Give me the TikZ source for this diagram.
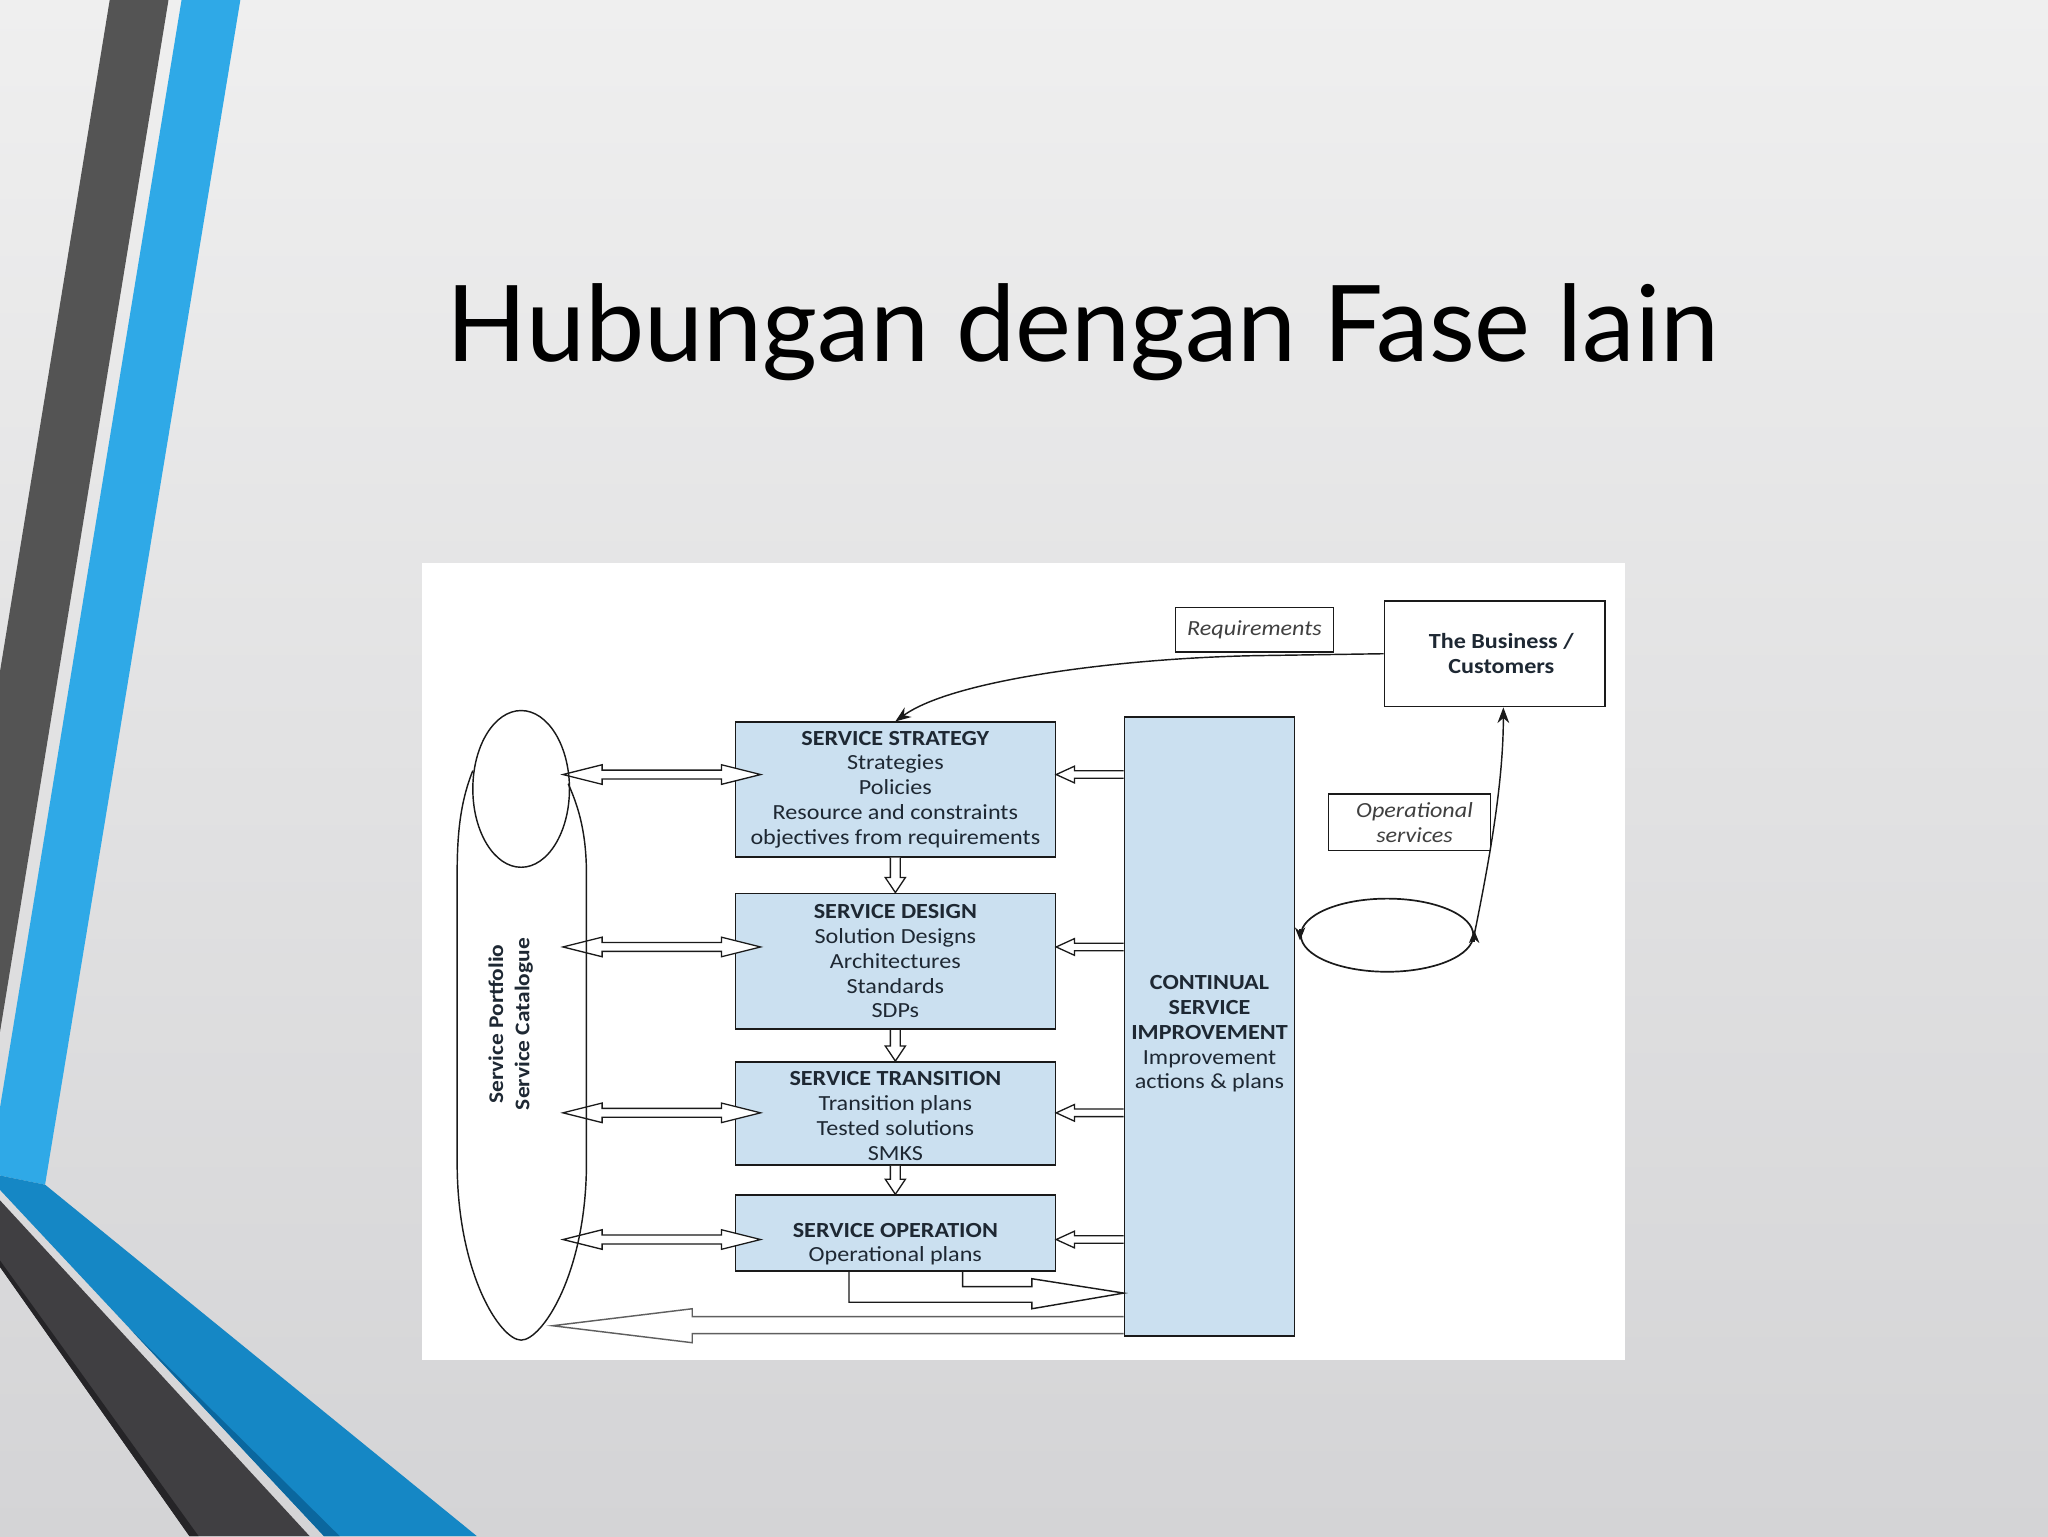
\documentclass[tikz,border=0pt]{standalone}
\usepackage{fontspec}
\setmainfont{Carlito}[FakeStretch=1.12]
\newfontfamily\titlefont{Lato}
\usetikzlibrary{arrows.meta,calc,shapes.geometric}
\definecolor{bgtop}{HTML}{EFEFEF}
\definecolor{bgmid}{HTML}{F3F3F5}
\definecolor{bgbot}{HTML}{D4D4D6}
\definecolor{stripegray}{HTML}{545454}
\definecolor{stripeblue}{HTML}{2FA9E7}
\definecolor{bandblue}{HTML}{1587C5}
\definecolor{bandblueshadow}{HTML}{0B679E}
\definecolor{banddark}{HTML}{403F42}
\definecolor{banddarkshadow}{HTML}{252427}
\definecolor{boxblue}{HTML}{CBE0F0}
\definecolor{ink}{HTML}{1A1A1A}
\definecolor{txt}{HTML}{1E2833}
\tikzset{
  phase/.style={draw=ink, line width=1.3pt, fill=boxblue, inner sep=0pt, align=center,
    text=txt, font=\fontsize{16.5}{19}\selectfont},
  plainbox/.style={draw=ink, line width=1.2pt, fill=white, inner sep=0pt, align=center,
    text=txt, font=\fontsize{16.5}{19}\selectfont},
  hollow/.style={draw=ink, line width=1pt, fill=white, line join=miter},
  thinline/.style={draw=ink, line width=1.1pt},
  downarrow/.style={hollow, to path={let \p1=(\tikztostart), \p2=(\tikztotarget) in
    (\x1-3.8pt,\y1) -- (\x1-3.8pt,\y2+11.5pt) -- (\x1-7.7pt,\y2+11.5pt) -- (\x1,\y2)
    -- (\x1+7.7pt,\y2+11.5pt) -- (\x1+3.8pt,\y2+11.5pt) -- (\x1+3.8pt,\y1)}},
  leftarrow/.style={hollow, to path={let \p1=(\tikztostart), \p2=(\tikztotarget) in
    (\x1,\y1+2.9pt) -- (\x2+14pt,\y1+2.9pt) -- (\x2+14pt,\y1+6.4pt) -- (\x2,\y1)
    -- (\x2+14pt,\y1-6.4pt) -- (\x2+14pt,\y1-2.9pt) -- (\x1,\y1-2.9pt)}},
  dblarrow/.style={hollow, to path={let \p1=(\tikztostart), \p2=(\tikztotarget) in
    (\x1,\y1) -- (\x1+30pt,\y1+7.5pt) -- (\x1+30pt,\y1+3.4pt) -- (\x2-30pt,\y1+3.4pt)
    -- (\x2-30pt,\y1+7.5pt) -- (\x2,\y1) -- (\x2-30pt,\y1-7.5pt) -- (\x2-30pt,\y1-3.4pt)
    -- (\x1+30pt,\y1-3.4pt) -- (\x1+30pt,\y1-7.5pt) -- cycle}},
  tip/.style={-{Stealth[length=12pt,width=9pt]}},
}
\begin{document}
\begin{tikzpicture}[x=1pt,y=-1pt]
\useasboundingbox (0,0) rectangle (1568,1176);
\shade[top color=bgtop, middle color=bgmid, bottom color=bgbot] (0,0) rectangle (1568,1176);

% slide decoration
\fill[stripegray] (84,0) -- (129,0) -- (0,790) -- (0,514) -- cycle;
\fill[stripeblue] (139,0) -- (184,0) -- (34.5,907) -- (0,900) -- (0,848) -- cycle;
\fill[bandblue] (0,900) -- (34.5,907) -- (365,1176) -- (248,1176) -- (0,911) -- cycle;
\fill[bandblueshadow] (100,1018) -- (248,1176) -- (260,1176) -- cycle;
\fill[banddark] (0,919) -- (237,1176) -- (145,1176) -- (0,970) -- cycle;
\fill[banddarkshadow] (0,965) -- (0,970) -- (145,1176) -- (152,1176) -- cycle;

% title
\node[font=\titlefont\fontsize{81}{90}\selectfont, anchor=base, text=black] (title)
  at (829,277) {Hubungan dengan Fase lain};

% picture panel
\fill[white] (323,431) rectangle (1244,1041);

% boxes
\node[phase, minimum width=245pt, minimum height=103pt] (ss) at (685.5,604.5)
  {\textbf{SERVICE STRATEGY}\\Strategies\\Policies\\Resource and constraints\\objectives from requirements};
\node[phase, minimum width=245pt, minimum height=104pt] (sd) at (685.5,736)
  {\textbf{SERVICE DESIGN}\\Solution Designs\\Architectures\\Standards\\SDPs};
\node[phase, minimum width=245pt, minimum height=79pt] (st) at (685.5,852.5)
  {\rule{0pt}{15pt}\textbf{SERVICE TRANSITION}\\Transition plans\\Tested solutions\\SMKS};
\node[phase, minimum width=245pt, minimum height=58pt] (so) at (685.5,944)
  {\rule{0pt}{28pt}\textbf{SERVICE OPERATION}\\Operational plans};
\node[phase, minimum width=130pt, minimum height=474pt] (csi) at (926,786)
  {\rule{0pt}{22pt}\textbf{CONTINUAL}\\\textbf{SERVICE}\\\textbf{IMPROVEMENT}\\Improvement\\actions \& plans};
\node[plainbox, minimum width=121pt, minimum height=34pt, text=black!75] (req) at (960.5,482)
  {\itshape Requirements};
\node[plainbox, minimum width=169pt, minimum height=81pt] (biz) at (1144.5,500.5)
  {\hspace*{10pt}\textbf{The Business /}\\\hspace*{10pt}\textbf{Customers}};
\node[plainbox, minimum width=124pt, minimum height=43pt, text=black!75] (ops) at (1079,629.5)
  {\hspace*{8pt}\itshape Operational\\\hspace*{8pt}\itshape services};
\node[draw=ink, line width=1.3pt, ellipse, minimum width=132pt, minimum height=56pt, inner sep=0pt]
  (loop) at (1062,716) {};

% arrows between phases
\draw[downarrow] (ss.south) to (sd.north);
\draw[downarrow] (sd.south) to (st.north);
\draw[downarrow] (st.south) to (so.north);

% arrows from CSI
\draw[leftarrow] (csi.west |- 0,593) to (ss.east |- 0,593);
\draw[leftarrow] (csi.west |- 0,725) to (sd.east |- 0,725);
\draw[leftarrow] (csi.west |- 0,852) to (st.east |- 0,852);
\draw[leftarrow] (csi.west |- 0,949) to (so.east |- 0,949);

% portfolio / catalogue
\coordinate (p1) at (431,593);
\coordinate (p2) at (431,725);
\coordinate (p3) at (431,852);
\coordinate (p4) at (431,949);
\draw[dblarrow] (p1) to ([xshift=20pt]ss.west |- 0,593);
\draw[dblarrow] (p2) to ([xshift=20pt]sd.west |- 0,725);
\draw[dblarrow] (p3) to ([xshift=20pt]st.west |- 0,852);
\draw[dblarrow] (p4) to ([xshift=20pt]so.west |- 0,949);

\node[draw=ink, line width=1.1pt, ellipse, minimum width=74pt, minimum height=120pt, inner sep=0pt]
  (port) at (399,604) {};
\draw[thinline] (362,590) .. controls (352,615) and (350,640) .. (350,670) -- (350,890)
  .. controls (350,975) and (383,1026) .. (399,1026)
  .. controls (415,1026) and (449,975) .. (449,890) -- (449,670)
  .. controls (449,640) and (444,620) .. (435,600);
\node[rotate=90, align=center, text=txt, font=\bfseries\fontsize{16}{20}\selectfont] (cat)
  at (391,784) {Service Portfolio\\Service Catalogue};

% operation -> CSI
\draw[thinline, line join=miter] (so.south -| 650,0) -- (650,997) -- (790,997) -- (790,1002)
  -- (csi.west |- 0,990) -- (790,979) -- (790,985) -- (737,985) -- (so.south -| 737,0);
% CSI -> portfolio
\draw[thinline, draw=ink!70, line join=miter] (csi.west |- 0,1008) -- (530,1008) -- (530,1002)
  -- (423,1015) -- (530,1028) -- (530,1021) -- (csi.west |- 0,1021);

% requirements and operational services
\draw[thinline, tip] (biz.west) -- (960,502) .. controls (860,504) and (730,520) .. (ss.north);
\draw[thinline, tip] (loop.east) .. controls (1140,660) and (1151,600) .. (biz.south -| 1151,0);
\draw[thinline, -{Stealth[length=10pt,width=8pt]}] ([yshift=5pt]loop.west) -- ([yshift=-4pt]loop.west);
\draw[thinline, -{Stealth[length=10pt,width=8pt]}] ([yshift=-5pt]loop.east) -- ([yshift=4pt]loop.east);
\end{tikzpicture}
\end{document}
